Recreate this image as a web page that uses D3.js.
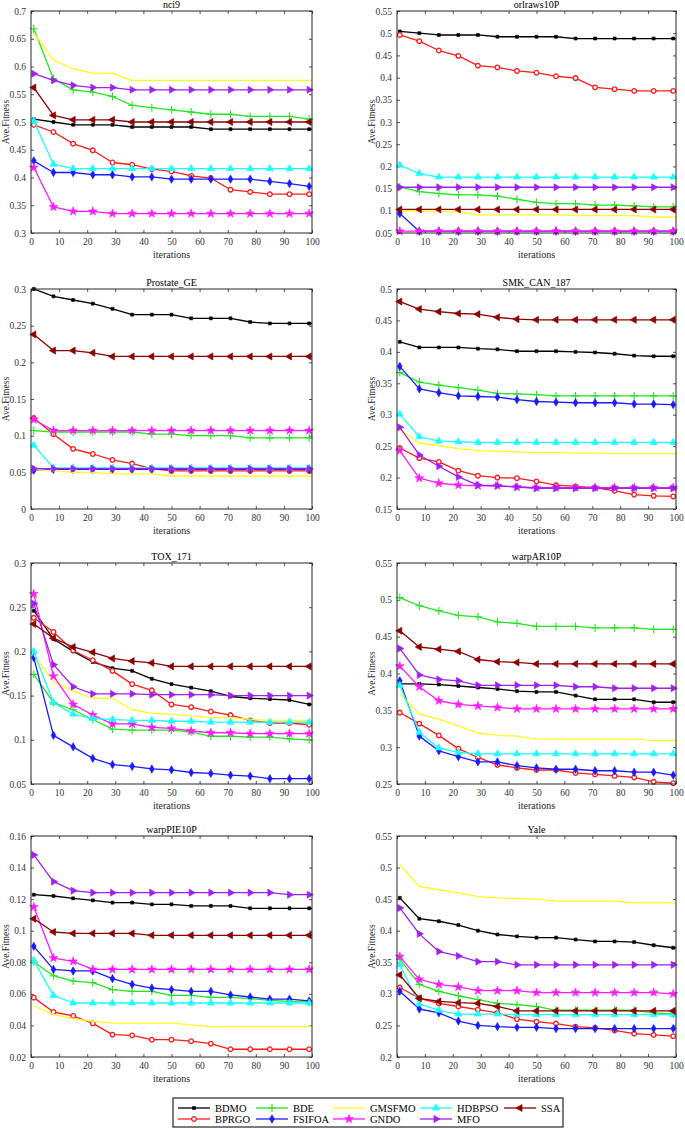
<!DOCTYPE html>
<html>
<head>
<meta charset="utf-8">
<script src="https://cdn.jsdelivr.net/npm/d3@7"></script>
<style>
  body { margin: 0; background: #fff; }
  text { font-family: "Liberation Serif", "Times New Roman", serif; }
</style>
</head>
<body>
<div id="chart"></div>
<script>
// iterations where the markers sit (lines carry on to 100)
var iterations = [1, 8, 15, 22, 29, 36, 43, 50, 57, 64, 71, 78, 85, 92, 99];
var xTicks = [0, 10, 20, 30, 40, 50, 60, 70, 80, 90, 100];

// plot order = legend order (column wise)
var algorithms = ["BDMO", "BPRGO", "BDE", "FSIFOA", "GMSFMO", "GNDO", "HDBPSO", "MFO", "SSA"];

var datasets = ["nci9", "orlraws10P", "Prostate_GE", "SMK_CAN_187", "TOX_171", "warpAR10P", "warpPIE10P", "Yale"];

// y tick labels per dataset
var nci9Ticks = [0.3, 0.35, 0.4, 0.45, 0.5, 0.55, 0.6, 0.65, 0.7];
var orlrawsTicks = [0.05, 0.1, 0.15, 0.2, 0.25, 0.3, 0.35, 0.4, 0.45, 0.5, 0.55];
var prostateTicks = [0, 0.05, 0.1, 0.15, 0.2, 0.25, 0.3];
var smkTicks = [0.15, 0.2, 0.25, 0.3, 0.35, 0.4, 0.45, 0.5];
var toxTicks = [0.05, 0.1, 0.15, 0.2, 0.25, 0.3];
var warpARTicks = [0.25, 0.3, 0.35, 0.4, 0.45, 0.5, 0.55];
var warpPIETicks = [0.02, 0.04, 0.06, 0.08, 0.1, 0.12, 0.14, 0.16];
var yaleTicks = [0.2, 0.25, 0.3, 0.35, 0.4, 0.45, 0.5, 0.55];

// average fitness values read at the marker iterations
var nci9 = {
    BDMO:   [0.505, 0.5, 0.495, 0.495, 0.495, 0.491, 0.491, 0.491, 0.491, 0.487, 0.487, 0.487, 0.487, 0.487, 0.487],
    BPRGO:  [0.495, 0.482, 0.461, 0.449, 0.427, 0.423, 0.415, 0.411, 0.403, 0.399, 0.378, 0.374, 0.37, 0.37, 0.37],
    BDE:    [0.668, 0.578, 0.558, 0.554, 0.546, 0.53, 0.526, 0.522, 0.518, 0.514, 0.514, 0.51, 0.51, 0.51, 0.505],
    FSIFOA: [0.43, 0.409, 0.409, 0.405, 0.405, 0.401, 0.401, 0.397, 0.397, 0.397, 0.397, 0.397, 0.393, 0.389, 0.384],
    GMSFMO: [0.66, 0.612, 0.596, 0.588, 0.588, 0.575, 0.575, 0.575, 0.575, 0.575, 0.575, 0.575, 0.575, 0.575, 0.575],
    GNDO:   [0.418, 0.347, 0.339, 0.339, 0.335, 0.335, 0.335, 0.335, 0.335, 0.335, 0.335, 0.335, 0.335, 0.335, 0.335],
    HDBPSO: [0.502, 0.424, 0.416, 0.416, 0.416, 0.416, 0.416, 0.416, 0.416, 0.416, 0.416, 0.416, 0.416, 0.416, 0.416],
    MFO:    [0.587, 0.575, 0.566, 0.562, 0.562, 0.558, 0.558, 0.558, 0.558, 0.558, 0.558, 0.558, 0.558, 0.558, 0.558],
    SSA:    [0.562, 0.512, 0.504, 0.504, 0.504, 0.5, 0.5, 0.5, 0.5, 0.5, 0.5, 0.5, 0.5, 0.5, 0.5]
};
var orlraws10P = {
    BDMO:   [0.504, 0.5, 0.496, 0.496, 0.496, 0.492, 0.492, 0.492, 0.492, 0.488, 0.488, 0.488, 0.488, 0.488, 0.488],
    BPRGO:  [0.496, 0.482, 0.461, 0.449, 0.427, 0.423, 0.415, 0.411, 0.403, 0.399, 0.378, 0.374, 0.37, 0.37, 0.37],
    BDE:    [0.154, 0.143, 0.139, 0.136, 0.136, 0.133, 0.126, 0.119, 0.116, 0.116, 0.113, 0.113, 0.111, 0.109, 0.109],
    FSIFOA: [0.094, 0.054, 0.054, 0.054, 0.054, 0.054, 0.054, 0.054, 0.054, 0.054, 0.054, 0.054, 0.054, 0.054, 0.054],
    GMSFMO: [0.101, 0.099, 0.098, 0.098, 0.091, 0.091, 0.091, 0.091, 0.091, 0.089, 0.089, 0.089, 0.089, 0.086, 0.086],
    GNDO:   [0.054, 0.054, 0.054, 0.054, 0.054, 0.054, 0.054, 0.054, 0.054, 0.054, 0.054, 0.054, 0.054, 0.054, 0.054],
    HDBPSO: [0.203, 0.184, 0.176, 0.176, 0.176, 0.176, 0.176, 0.176, 0.176, 0.176, 0.176, 0.176, 0.176, 0.176, 0.176],
    MFO:    [0.153, 0.153, 0.153, 0.153, 0.153, 0.153, 0.153, 0.153, 0.153, 0.153, 0.153, 0.153, 0.153, 0.153, 0.153],
    SSA:    [0.103, 0.103, 0.103, 0.103, 0.103, 0.103, 0.103, 0.103, 0.103, 0.103, 0.103, 0.103, 0.103, 0.103, 0.103]
};
var prostateGE = {
    BDMO:   [0.3, 0.29, 0.285, 0.28, 0.273, 0.265, 0.265, 0.265, 0.26, 0.26, 0.26, 0.255, 0.253, 0.253, 0.253],
    BPRGO:  [0.124, 0.102, 0.082, 0.075, 0.067, 0.062, 0.055, 0.052, 0.052, 0.052, 0.052, 0.052, 0.052, 0.052, 0.052],
    BDE:    [0.107, 0.105, 0.105, 0.105, 0.105, 0.105, 0.102, 0.102, 0.1, 0.1, 0.1, 0.097, 0.097, 0.097, 0.097],
    FSIFOA: [0.053, 0.054, 0.054, 0.054, 0.054, 0.054, 0.054, 0.054, 0.054, 0.054, 0.054, 0.054, 0.054, 0.054, 0.054],
    GMSFMO: [0.054, 0.052, 0.05, 0.05, 0.048, 0.048, 0.048, 0.045, 0.045, 0.045, 0.045, 0.045, 0.045, 0.045, 0.045],
    GNDO:   [0.122, 0.107, 0.107, 0.107, 0.107, 0.107, 0.107, 0.107, 0.107, 0.107, 0.107, 0.107, 0.107, 0.107, 0.107],
    HDBPSO: [0.087, 0.056, 0.056, 0.056, 0.056, 0.056, 0.056, 0.056, 0.056, 0.056, 0.056, 0.056, 0.056, 0.056, 0.056],
    MFO:    [0.055, 0.055, 0.055, 0.055, 0.055, 0.055, 0.055, 0.055, 0.055, 0.055, 0.055, 0.055, 0.055, 0.055, 0.055],
    SSA:    [0.238, 0.216, 0.216, 0.213, 0.208, 0.208, 0.208, 0.208, 0.208, 0.208, 0.208, 0.208, 0.208, 0.208, 0.208]
};
var smkCan187 = {
    BDMO:   [0.416, 0.407, 0.407, 0.407, 0.405, 0.404, 0.401, 0.401, 0.401, 0.4, 0.399, 0.397, 0.394, 0.393, 0.393],
    BPRGO:  [0.247, 0.231, 0.225, 0.211, 0.203, 0.2, 0.199, 0.194, 0.188, 0.186, 0.184, 0.179, 0.173, 0.171, 0.17],
    BDE:    [0.367, 0.352, 0.347, 0.343, 0.339, 0.334, 0.333, 0.332, 0.33, 0.33, 0.33, 0.33, 0.33, 0.33, 0.33],
    FSIFOA: [0.377, 0.341, 0.335, 0.33, 0.329, 0.328, 0.324, 0.321, 0.32, 0.319, 0.319, 0.319, 0.317, 0.317, 0.316],
    GMSFMO: [0.276, 0.255, 0.251, 0.246, 0.243, 0.242, 0.241, 0.24, 0.24, 0.239, 0.239, 0.238, 0.238, 0.238, 0.238],
    GNDO:   [0.243, 0.199, 0.191, 0.188, 0.187, 0.187, 0.185, 0.184, 0.184, 0.184, 0.184, 0.184, 0.184, 0.184, 0.184],
    HDBPSO: [0.301, 0.265, 0.258, 0.257, 0.256, 0.256, 0.256, 0.256, 0.256, 0.256, 0.256, 0.256, 0.256, 0.256, 0.256],
    MFO:    [0.28, 0.236, 0.218, 0.201, 0.188, 0.187, 0.185, 0.183, 0.183, 0.183, 0.183, 0.183, 0.183, 0.183, 0.183],
    SSA:    [0.48, 0.468, 0.464, 0.461, 0.46, 0.455, 0.452, 0.451, 0.451, 0.451, 0.451, 0.451, 0.451, 0.451, 0.451]
};
var tox171 = {
    BDMO:   [0.246, 0.214, 0.2, 0.188, 0.181, 0.178, 0.169, 0.163, 0.159, 0.155, 0.149, 0.147, 0.146, 0.145, 0.14],
    BPRGO:  [0.238, 0.222, 0.201, 0.19, 0.178, 0.163, 0.156, 0.14, 0.137, 0.132, 0.128, 0.122, 0.119, 0.119, 0.117],
    BDE:    [0.174, 0.142, 0.134, 0.123, 0.112, 0.111, 0.111, 0.111, 0.109, 0.104, 0.104, 0.103, 0.103, 0.101, 0.1],
    FSIFOA: [0.193, 0.105, 0.092, 0.079, 0.072, 0.07, 0.067, 0.066, 0.063, 0.062, 0.06, 0.059, 0.056, 0.056, 0.056],
    GMSFMO: [0.196, 0.166, 0.155, 0.147, 0.147, 0.134, 0.13, 0.129, 0.127, 0.125, 0.125, 0.123, 0.122, 0.122, 0.122],
    GNDO:   [0.265, 0.172, 0.14, 0.128, 0.118, 0.118, 0.114, 0.113, 0.11, 0.108, 0.108, 0.107, 0.107, 0.107, 0.107],
    HDBPSO: [0.2, 0.142, 0.129, 0.124, 0.123, 0.122, 0.122, 0.121, 0.121, 0.12, 0.12, 0.12, 0.12, 0.12, 0.12],
    MFO:    [0.254, 0.185, 0.16, 0.152, 0.152, 0.152, 0.151, 0.151, 0.151, 0.151, 0.15, 0.15, 0.15, 0.15, 0.15],
    SSA:    [0.231, 0.215, 0.205, 0.199, 0.192, 0.189, 0.187, 0.183, 0.183, 0.183, 0.183, 0.183, 0.183, 0.183, 0.183]
};
var warpAR10P = {
    BDMO:   [0.386, 0.386, 0.385, 0.383, 0.381, 0.379, 0.376, 0.375, 0.375, 0.37, 0.365, 0.365, 0.365, 0.361, 0.361],
    BPRGO:  [0.347, 0.332, 0.316, 0.298, 0.286, 0.276, 0.272, 0.269, 0.269, 0.265, 0.263, 0.261, 0.259, 0.253, 0.251],
    BDE:    [0.503, 0.492, 0.485, 0.479, 0.477, 0.47, 0.468, 0.464, 0.464, 0.464, 0.462, 0.462, 0.462, 0.46, 0.46],
    FSIFOA: [0.39, 0.315, 0.295, 0.287, 0.28, 0.28, 0.275, 0.272, 0.27, 0.27, 0.268, 0.268, 0.266, 0.266, 0.262],
    GMSFMO: [0.373, 0.345, 0.338, 0.329, 0.319, 0.316, 0.315, 0.311, 0.311, 0.311, 0.311, 0.311, 0.311, 0.309, 0.309],
    GNDO:   [0.41, 0.382, 0.363, 0.358, 0.356, 0.354, 0.352, 0.352, 0.352, 0.352, 0.352, 0.352, 0.352, 0.352, 0.352],
    HDBPSO: [0.384, 0.32, 0.299, 0.293, 0.291, 0.291, 0.291, 0.291, 0.291, 0.291, 0.291, 0.291, 0.291, 0.291, 0.291],
    MFO:    [0.434, 0.398, 0.392, 0.39, 0.384, 0.384, 0.384, 0.384, 0.384, 0.382, 0.382, 0.38, 0.38, 0.38, 0.38],
    SSA:    [0.458, 0.436, 0.433, 0.43, 0.419, 0.416, 0.415, 0.413, 0.413, 0.413, 0.413, 0.413, 0.413, 0.413, 0.413]
};
var warpPIE10P = {
    BDMO:   [0.1228, 0.122, 0.1205, 0.1192, 0.1178, 0.1178, 0.1167, 0.1167, 0.1157, 0.1157, 0.1157, 0.1142, 0.1142, 0.1142, 0.1142],
    BPRGO:  [0.0576, 0.0485, 0.046, 0.0413, 0.0342, 0.0337, 0.031, 0.031, 0.03, 0.0285, 0.0249, 0.0249, 0.0249, 0.0249, 0.0249],
    BDE:    [0.0802, 0.0715, 0.0681, 0.0671, 0.0627, 0.0616, 0.0616, 0.0591, 0.0591, 0.0578, 0.0578, 0.057, 0.0559, 0.0553, 0.0548],
    FSIFOA: [0.0901, 0.0755, 0.0745, 0.0745, 0.0696, 0.066, 0.0637, 0.0627, 0.0616, 0.0616, 0.0593, 0.058, 0.0567, 0.0567, 0.0555],
    GMSFMO: [0.0523, 0.047, 0.0443, 0.0426, 0.0415, 0.0415, 0.0415, 0.0415, 0.0403, 0.0392, 0.0392, 0.0392, 0.0392, 0.0392, 0.0392],
    GNDO:   [0.115, 0.0827, 0.0806, 0.0755, 0.0755, 0.0755, 0.0755, 0.0755, 0.0755, 0.0755, 0.0755, 0.0755, 0.0755, 0.0755, 0.0755],
    HDBPSO: [0.0812, 0.059, 0.0542, 0.0542, 0.0542, 0.0542, 0.0542, 0.0542, 0.0542, 0.0542, 0.0542, 0.0542, 0.0542, 0.0542, 0.0542],
    MFO:    [0.148, 0.1311, 0.1254, 0.1241, 0.1241, 0.1241, 0.1241, 0.1241, 0.1241, 0.1241, 0.1241, 0.1241, 0.1241, 0.1228, 0.1228],
    SSA:    [0.1076, 0.0992, 0.0983, 0.0983, 0.0983, 0.0983, 0.0971, 0.0971, 0.0971, 0.0971, 0.0971, 0.0971, 0.0971, 0.0971, 0.0971]
};
var yale = {
    BDMO:   [0.452, 0.419, 0.415, 0.409, 0.4, 0.394, 0.391, 0.389, 0.389, 0.386, 0.383, 0.383, 0.382, 0.377, 0.373],
    BPRGO:  [0.31, 0.293, 0.285, 0.28, 0.275, 0.27, 0.26, 0.256, 0.253, 0.248, 0.246, 0.242, 0.237, 0.235, 0.233],
    BDE:    [0.355, 0.315, 0.304, 0.297, 0.291, 0.285, 0.283, 0.28, 0.274, 0.274, 0.274, 0.274, 0.274, 0.27, 0.268],
    FSIFOA: [0.304, 0.276, 0.27, 0.257, 0.25, 0.248, 0.247, 0.247, 0.245, 0.245, 0.245, 0.245, 0.245, 0.245, 0.245],
    GMSFMO: [0.505, 0.47, 0.465, 0.46, 0.454, 0.452, 0.451, 0.45, 0.447, 0.447, 0.447, 0.447, 0.444, 0.444, 0.444],
    GNDO:   [0.359, 0.323, 0.315, 0.311, 0.305, 0.305, 0.305, 0.302, 0.302, 0.302, 0.302, 0.302, 0.302, 0.302, 0.3],
    HDBPSO: [0.346, 0.284, 0.274, 0.268, 0.268, 0.268, 0.267, 0.267, 0.267, 0.267, 0.267, 0.267, 0.267, 0.267, 0.267],
    MFO:    [0.436, 0.395, 0.367, 0.36, 0.351, 0.351, 0.346, 0.346, 0.346, 0.346, 0.346, 0.346, 0.346, 0.346, 0.346],
    SSA:    [0.33, 0.293, 0.288, 0.286, 0.285, 0.28, 0.273, 0.273, 0.273, 0.273, 0.273, 0.273, 0.273, 0.273, 0.273]
};

var panelData = [nci9, orlraws10P, prostateGE, smkCan187, tox171, warpAR10P, warpPIE10P, yale];
var panelTicks = [nci9Ticks, orlrawsTicks, prostateTicks, smkTicks, toxTicks, warpARTicks, warpPIETicks, yaleTicks];

// look of each algorithm
var colors = ["#000000", "#ff1a1a", "#22e622", "#1a1aff", "#ffff1a", "#ff1aff", "#1affff", "#a020f0", "#8b0000"];
var markers = ["square", "circle", "plus", "diamond", "none", "star", "triUp", "triRight", "triLeft"];

// page layout
var W = 685, H = 1128;
var cols = [{ x0: 31, x1: 312, ylab: 9 }, { x0: 397, x1: 676, ylab: 375 }];
var rows = [{ y0: 11, y1: 233 }, { y0: 289, y1: 509 }, { y0: 563, y1: 784 }, { y0: 836, y1: 1057 }];

var svg = d3.select("#chart").append("svg")
    .attr("width", W).attr("height", H);

function drawMarker(g, type, color) {
    var p;
    if (type == "none") return;
    if (type == "circle") {
        g.append("circle").attr("r", 2.3).attr("fill", "#fff")
            .attr("stroke", color).attr("stroke-width", 1.3);
        return;
    }
    if (type == "plus") {
        g.append("path").attr("d", d3.symbol(d3.symbolPlus, 22)())
            .attr("fill", "none").attr("stroke", color).attr("stroke-width", 1.1);
        return;
    }
    if (type == "square") p = g.append("path").attr("d", d3.symbol(d3.symbolSquare, 9)());
    if (type == "diamond") p = g.append("path").attr("d", d3.symbol(d3.symbolDiamond, 20)());
    if (type == "star") p = g.append("path").attr("d", d3.symbol(d3.symbolStar, 24)());
    if (type == "triUp") p = g.append("path").attr("d", d3.symbol(d3.symbolTriangle, 22)());
    if (type == "triRight") p = g.append("path").attr("d", d3.symbol(d3.symbolTriangle, 22)()).attr("transform", "rotate(90)");
    if (type == "triLeft") p = g.append("path").attr("d", d3.symbol(d3.symbolTriangle, 22)()).attr("transform", "rotate(-90)");
    p.attr("fill", color).attr("stroke", color).attr("stroke-width", 0.6);
}

datasets.forEach(function (name, k) {
    var c = cols[k % 2], r = rows[Math.floor(k / 2)];
    var ticks = panelTicks[k];
    var data = panelData[k];

    var x = d3.scaleLinear().domain([0, 100]).range([c.x0, c.x1]);
    var y = d3.scaleLinear().domain([ticks[0], ticks[ticks.length - 1]]).range([r.y1, r.y0]);

    var g = svg.append("g");

    g.append("clipPath").attr("id", "clip" + k)
        .append("rect")
        .attr("x", c.x0).attr("y", r.y0)
        .attr("width", c.x1 - c.x0).attr("height", r.y1 - r.y0);

    // axes, ticks pointing inward like matlab
    var fmt = function (d) { return String(+d.toFixed(3)); };
    var axB = g.append("g").attr("transform", "translate(0," + r.y1 + ")")
        .call(d3.axisBottom(x).tickValues(xTicks).tickSizeInner(-3).tickSizeOuter(0).tickPadding(5).tickFormat(fmt));
    var axL = g.append("g").attr("transform", "translate(" + c.x0 + ",0)")
        .call(d3.axisLeft(y).tickValues(ticks).tickSizeInner(-3).tickSizeOuter(0).tickPadding(5).tickFormat(fmt));
    var axT = g.append("g").attr("transform", "translate(0," + r.y0 + ")")
        .call(d3.axisTop(x).tickValues(xTicks).tickSizeInner(-3).tickSizeOuter(0).tickFormat(""));
    var axR = g.append("g").attr("transform", "translate(" + c.x1 + ",0)")
        .call(d3.axisRight(y).tickValues(ticks).tickSizeInner(-3).tickSizeOuter(0).tickFormat(""));
    [axB, axL, axT, axR].forEach(function (a) {
        a.select(".domain").remove();
        a.selectAll("line").attr("stroke", "#262626").attr("stroke-width", 0.8);
        a.selectAll("text").attr("fill", "#333").attr("font-size", "9.5px")
            .attr("font-family", "Liberation Serif, serif");
    });

    // series
    var line = d3.line()
        .x(function (d) { return x(d.it); })
        .y(function (d) { return y(d.v); });

    algorithms.forEach(function (alg, j) {
        var vals = data[alg];
        var pts = iterations.map(function (it, i) { return { it: it, v: vals[i] }; });
        var full = pts.concat([{ it: 100, v: vals[vals.length - 1] }]);
        g.append("path")
            .attr("d", line(full))
            .attr("clip-path", "url(#clip" + k + ")")
            .attr("fill", "none")
            .attr("stroke", colors[j])
            .attr("stroke-width", 1.3)
            .attr("stroke-linejoin", "round");
        if (markers[j] != "none") {
            pts.forEach(function (d) {
                var m = g.append("g").attr("transform", "translate(" + x(d.it) + "," + y(d.v) + ")");
                drawMarker(m, markers[j], colors[j]);
            });
        }
    });

    // box
    g.append("rect")
        .attr("x", c.x0).attr("y", r.y0)
        .attr("width", c.x1 - c.x0).attr("height", r.y1 - r.y0)
        .attr("fill", "none").attr("stroke", "#262626").attr("stroke-width", 1);

    // title and axis labels
    g.append("text")
        .attr("x", (c.x0 + c.x1) / 2).attr("y", r.y0 - 3)
        .attr("text-anchor", "middle").attr("font-size", "10px").attr("fill", "#000")
        .text(name);
    g.append("text")
        .attr("x", (c.x0 + c.x1) / 2).attr("y", r.y1 + 25)
        .attr("text-anchor", "middle").attr("font-size", "10px").attr("fill", "#262626")
        .text("iterations");
    g.append("text")
        .attr("transform", "translate(" + c.ylab + "," + ((r.y0 + r.y1) / 2) + ") rotate(-90)")
        .attr("text-anchor", "middle").attr("font-size", "9.5px").attr("fill", "#262626")
        .text("Ave.Fitness");
});

// legend, two rows filled column by column
var legX = [178, 256, 333, 420, 504];
var legY = [1108, 1119];
var legend = svg.append("g");
legend.append("rect")
    .attr("x", 173).attr("y", 1098).attr("width", 390).attr("height", 29)
    .attr("fill", "#fff").attr("stroke", "#262626").attr("stroke-width", 1.2);

algorithms.forEach(function (alg, j) {
    var lx = legX[Math.floor(j / 2)], ly = legY[j % 2];
    var item = legend.append("g").attr("transform", "translate(" + lx + "," + ly + ")");
    item.append("line").attr("x1", 0).attr("x2", 32).attr("y1", 0).attr("y2", 0)
        .attr("stroke", colors[j]).attr("stroke-width", 1.3);
    var m = item.append("g").attr("transform", "translate(16,0)");
    drawMarker(m, markers[j], colors[j]);
    item.append("text").attr("x", 37).attr("y", 3.5)
        .attr("font-size", "10.5px").attr("fill", "#000")
        .text(alg);
});
</script>
</body>
</html>
